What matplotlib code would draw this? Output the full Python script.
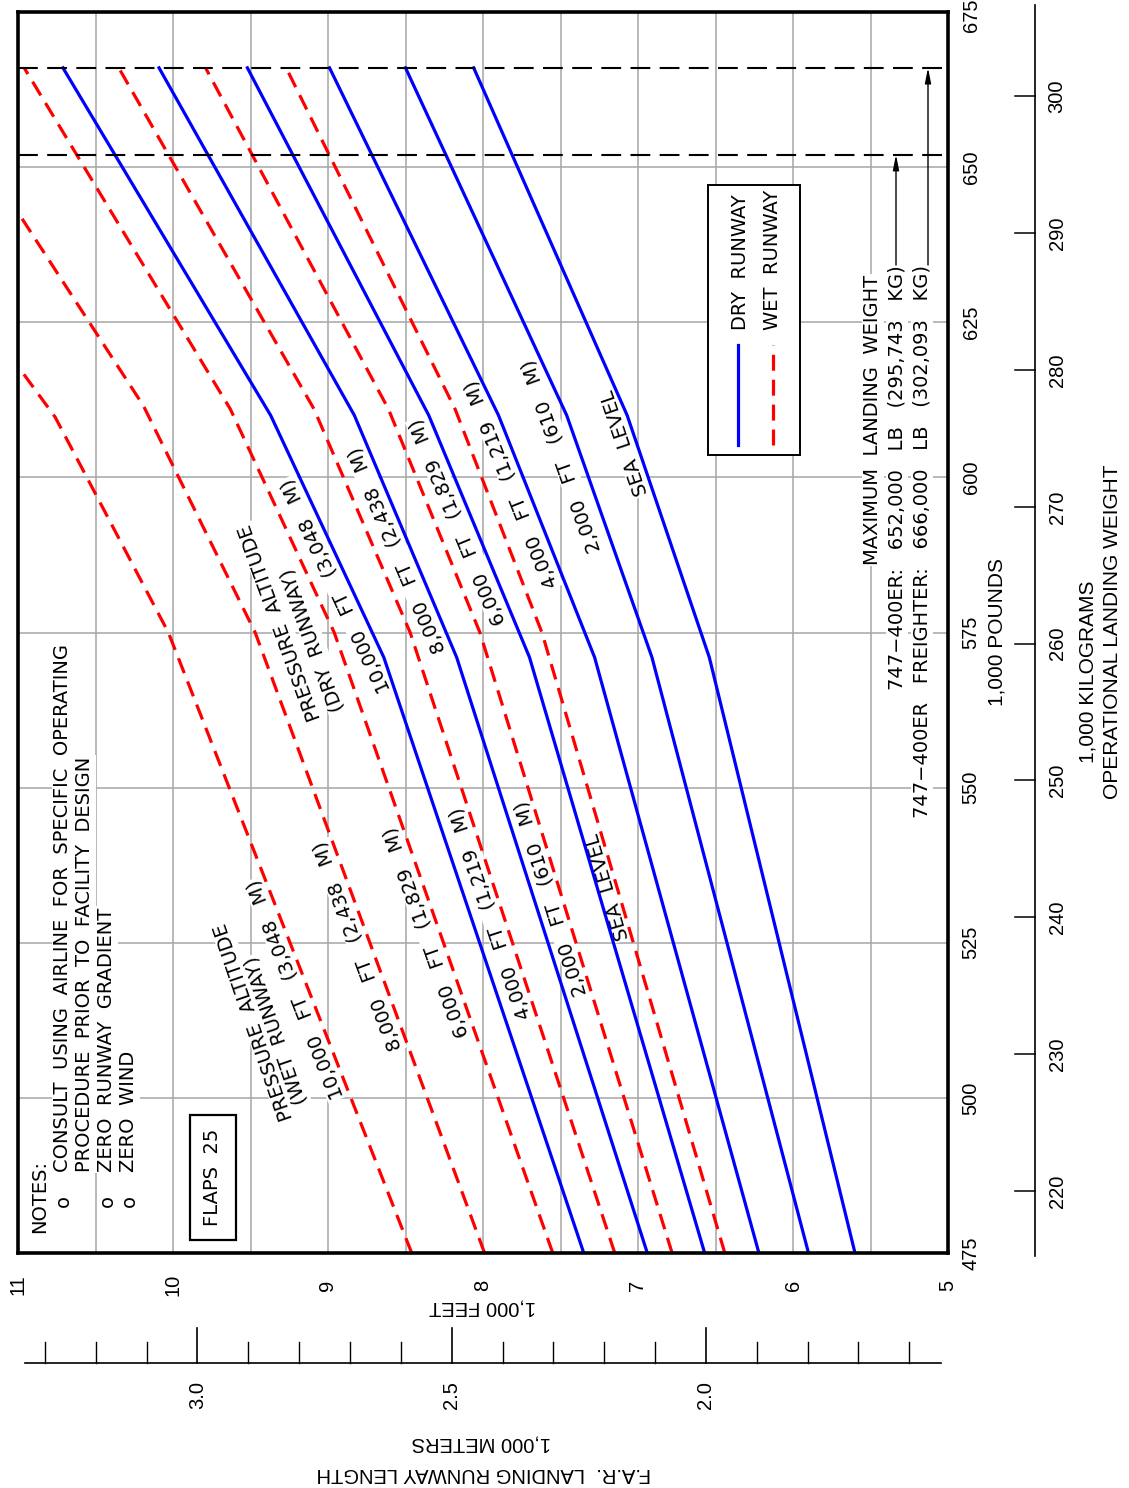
import numpy as np
import matplotlib
matplotlib.use("Agg")
import matplotlib.pyplot as plt
from matplotlib import transforms
from matplotlib.lines import Line2D
from matplotlib.patches import Rectangle

# ---------------- data ----------------
weight_ticks_lb = [475, 500, 525, 550, 575, 600, 625, 650, 675]   # 1,000 lb
weight_ticks_kg = [220, 230, 240, 250, 260, 270, 280, 290, 300]   # 1,000 kg
length_ticks_ft = [5, 6, 7, 8, 9, 10, 11]                          # 1,000 ft
length_ticks_m = [2.0, 2.5, 3.0]                                   # 1,000 m
max_weights = [652, 666]

dry_weights = [475, 571, 610, 666]
dry_sea_level = [5.60, 6.54, 7.07, 8.06]
dry_2000 = [5.90, 6.91, 7.46, 8.50]
dry_4000 = [6.22, 7.28, 7.90, 8.99]
dry_6000 = [6.57, 7.70, 8.35, 9.52]
dry_8000 = [6.94, 8.17, 8.83, 10.09]
dry_10000 = [7.35, 8.64, 9.37, 10.71]

wet_weights = [475, 575, 611, 666]
wet_sea_level = [6.44, 7.62, 8.18, 9.27]
wet_2000 = [6.78, 8.02, 8.61, 9.79]
wet_4000 = [7.15, 8.47, 9.09, 10.35]
wet_6000 = [7.55, 8.96, 9.63, 10.96]
wet_8000_weights = [475, 575, 611.5, 642.7]
wet_8000 = [7.99, 9.47, 10.19, 11.0]
wet_10000_weights = [475, 575, 609.7, 617.9]
wet_10000 = [8.46, 10.03, 10.76, 11.0]

altitude_labels = ["SEA  LEVEL", "2,000   FT   (610   M)", "4,000   FT   (1,219   M)",
                   "6,000   FT   (1,829   M)", "8,000   FT   (2,438   M)",
                   "10,000   FT   (3,048   M)"]

W, H = 1129, 1488
def fx(x): return x / W
def fy(y): return 1 - y / H

BLUE = "#0000ff"
RED = "#ff0000"
GRID = "#a6a6a6"
CAD = ["DejaVu Sans"]
ARIAL = ["Liberation Sans", "DejaVu Sans"]
TICK = 14.5
TITLE = 15

fig = plt.figure(figsize=(W / 100, H / 100), dpi=100)
ax = fig.add_axes([fx(18), fy(1253), (948 - 18) / W, (1253 - 12) / H])
ax.set_xlim(11, 5)
ax.set_ylim(475, 675)

# grid
ax.set_xticks(np.arange(5.5, 11.0, 0.5))
ax.set_yticks(weight_ticks_lb[1:-1])
ax.grid(True, color=GRID, lw=1.1, zorder=0)
ax.set_axisbelow(True)
ax.tick_params(length=0, labelbottom=False, labelleft=False)
for s in ax.spines.values():
    s.set_linewidth(2.6)
    s.set_zorder(6)

# curves
dry = [dry_sea_level, dry_2000, dry_4000, dry_6000, dry_8000, dry_10000]
for c in dry:
    ax.plot(c, dry_weights, color=BLUE, lw=2.3, zorder=4, solid_joinstyle="round")
wet = [(wet_weights, wet_sea_level), (wet_weights, wet_2000), (wet_weights, wet_4000),
       (wet_weights, wet_6000), (wet_8000_weights, wet_8000), (wet_10000_weights, wet_10000)]
for wts, c in wet:
    ax.plot(c, wts, color=RED, lw=2.3, dashes=(5.0, 2.8), zorder=4)

# max landing weight lines
for mw in max_weights:
    ax.axhline(mw, color="black", lw=1.5, dashes=(9.5, 4.5), zorder=5)

# ---------- transforms ----------
tx = transforms.blended_transform_factory(ax.transData, fig.transFigure)   # x data, y fig
ty = transforms.blended_transform_factory(fig.transFigure, ax.transData)   # x fig, y data

# weight (lb) tick labels on right
for w in weight_ticks_lb:
    yy = w if w < 675 else w - 0.6
    fig.text(fx(971), yy, str(w), transform=ty, rotation=90, ha="center", va="center",
             fontsize=TICK, family=ARIAL)

# kg axis
kg_lb = [k * 2.20462 for k in weight_ticks_kg]
fig.add_artist(Line2D([fx(1035), fx(1035)], [fy(5), fy(1256)], color="black", lw=1.2))
for k, wl in zip(weight_ticks_kg, kg_lb):
    fig.add_artist(Line2D([fx(1015), fx(1035)], [wl, wl], transform=ty, color="black", lw=1.1))
    fig.text(fx(1057), wl, str(k), transform=ty, rotation=90, ha="center", va="center",
             fontsize=TICK, family=ARIAL)

fig.text(fx(997), fy(632), "1,000 POUNDS", rotation=90, ha="center", va="center",
         fontsize=TITLE, family=ARIAL)
fig.text(fx(1088), fy(672), "1,000 KILOGRAMS", rotation=90, ha="center", va="center",
         fontsize=TITLE, family=ARIAL)
fig.text(fx(1112), fy(632), "OPERATIONAL LANDING WEIGHT", rotation=90, ha="center", va="center",
         fontsize=TITLE, family=ARIAL)

# length (ft) tick labels
for L in length_ticks_ft:
    fig.text(L, fy(1285), str(L), transform=tx, rotation=90, ha="center", va="center",
             fontsize=TICK, family=ARIAL)
fig.text(fx(482), fy(1307), "1,000 FEET", rotation=180, ha="center", va="center",
         fontsize=TICK, family=ARIAL)

# meters axis
fig.add_artist(Line2D([fx(25), fx(941)], [fy(1363), fy(1363)], color="black", lw=1.2))
for km in np.arange(1.6, 3.35, 0.1):
    ft = km * 3.28084
    major = abs(km * 2 - round(km * 2)) < 1e-6
    top = 1328 if major else 1342
    fig.add_artist(Line2D([ft, ft], [fy(1363), fy(top)], transform=tx, color="black",
                          lw=1.2 if major else 1.0))
for m in length_ticks_m:
    fig.text(m * 3.28084, fy(1395), f"{m:.1f}", transform=tx, rotation=90, ha="center",
             va="center", fontsize=TICK, family=ARIAL)
fig.text(fx(481), fy(1443), "1,000 METERS", rotation=180, ha="center", va="center",
         fontsize=TICK, family=ARIAL)
fig.text(fx(484), fy(1473), "F.A.R.  LANDING RUNWAY LENGTH", rotation=180, ha="center",
         va="center", fontsize=TICK, family=ARIAL)

# ---------- annotations inside chart (drawn inside the axes so curves stay on top) ----------
wbox = dict(facecolor="white", edgecolor="none", pad=1.0)
FT = fig.transFigure

def label(x, y, s, rot=90, size=14, ha="center", va="center", box=True):
    ax.text(fx(x), fy(y), s, transform=FT, rotation=rot, ha=ha, va=va, fontsize=size,
            family=CAD, rotation_mode="anchor", bbox=wbox if box else None, zorder=3,
            clip_on=False)

def curve_label(Ls, Ws, wc, s, offset=13.0, size=14):
    """Put a label parallel to a curve, just on its long-runway side."""
    L0 = np.interp(wc, Ws, Ls)
    L1 = np.interp(wc + 1.0, Ws, Ls)
    p0 = ax.transData.transform((L0, wc))
    p1 = ax.transData.transform((L1, wc + 1.0))
    d = (p1 - p0) / np.hypot(*(p1 - p0))
    n = np.array([-d[1], d[0]])
    c = p0 + n * offset
    ang = np.degrees(np.arctan2(d[1], d[0]))
    ax.text(c[0] / W, c[1] / H, s, transform=FT, rotation=ang, ha="center", va="center",
            fontsize=size, family=CAD, rotation_mode="anchor", bbox=wbox, zorder=3,
            clip_on=False)

# notes
label(40, 1233, "NOTES:", ha="left")
label(63, 1207, "o", ha="left", box=False)
label(63, 1172, "CONSULT  USING  AIRLINE  FOR  SPECIFIC  OPERATING", ha="left")
label(85, 1172, "PROCEDURE  PRIOR  TO  FACILITY  DESIGN", ha="left")
label(107, 1207, "o", ha="left", box=False)
label(107, 1172, "ZERO  RUNWAY  GRADIENT", ha="left")
label(129, 1207, "o", ha="left", box=False)
label(129, 1172, "ZERO  WIND", ha="left")

# flaps box
ax.add_patch(Rectangle((fx(190), fy(1240)), (236 - 190) / W, (1240 - 1115) / H, transform=FT,
                       fill=True, facecolor="white", edgecolor="black", lw=1.6, zorder=3,
                       clip_on=False))
label(213, 1177, "FLAPS  25", box=False)

# wet-runway altitude labels
label(254, 1022, "PRESSURE  ALTITUDE", rot=109)
label(276, 1030, "(WET  RUNWAY)", rot=109)
wet_label_w = [534.4, 532.7, 530.3, 527.4, 525.2, 518.2]
wet_offsets = [8, 10, 11, 12, 12, 12]
for (wts, c), wl, s, o in zip(wet, wet_label_w, altitude_labels, wet_offsets):
    curve_label(c, wts, wl, s, offset=o)

# dry-runway altitude labels
label(280, 622, "PRESSURE  ALTITUDE", rot=110)
label(313, 640, "(DRY  RUNWAY)", rot=110)
dry_label_w = [606.1, 604.5, 599.7, 593.7, 589.2, 583.5]
dry_offsets = [11, 18, 13, 14, 13, 13]
for c, wl, s, o in zip(dry, dry_label_w, altitude_labels, dry_offsets):
    curve_label(c, dry_weights, wl, s, offset=o)

# legend box
ax.add_patch(Rectangle((fx(708), fy(455)), (800 - 708) / W, (455 - 185) / H, transform=FT,
                       fill=True, facecolor="white", edgecolor="black", lw=1.4, zorder=3,
                       clip_on=False))
ax.add_line(Line2D([fx(738), fx(738)], [fy(445), fy(345)], transform=FT, color=BLUE, lw=2.3,
                   zorder=4))
ax.add_line(Line2D([fx(773), fx(773)], [fy(445), fy(345)], transform=FT, color=RED, lw=2.3,
                   dashes=(5.0, 2.8), zorder=4))
label(740, 330, "DRY  RUNWAY", ha="left", box=False)
label(773, 330, "WET  RUNWAY", ha="left", box=False)

# maximum landing weight
label(873, 565, "MAXIMUM  LANDING  WEIGHT", ha="left")
label(897, 265, "747\u2212400ER:   652,000   LB   (295,743   KG)", ha="right")
label(922, 265, "747\u2212400ER   FREIGHTER:   666,000   LB   (302,093   KG)", ha="right")
for xp, mw in [(896, max_weights[0]), (928, max_weights[1])]:
    ax.annotate("", xy=(fx(xp), mw), xycoords=ty, xytext=(fx(xp), fy(265)),
                textcoords="figure fraction",
                arrowprops=dict(arrowstyle="-|>,head_width=0.18,head_length=0.9",
                                color="black", lw=1.0, shrinkA=0, shrinkB=0), zorder=5)

fig.savefig("out.png", dpi=100)
